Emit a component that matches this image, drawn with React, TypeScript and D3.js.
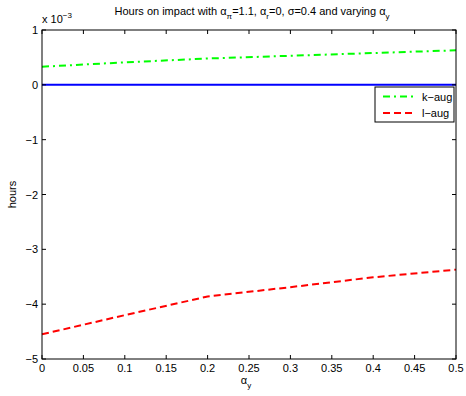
import React, { useEffect, useRef } from 'react';
import * as d3 from 'd3';

// alpha_y grid
const alphaY = [0, 0.1, 0.2, 0.3, 0.4, 0.5];
// hours on impact, in units of 1e-3
const kAug = [0.33, 0.41, 0.48, 0.53, 0.58, 0.63];
const lAug = [-4.55, -4.2, -3.86, -3.69, -3.51, -3.37];
const baseline = [0, 0, 0, 0, 0, 0];
const xTicks = [0, 0.05, 0.1, 0.15, 0.2, 0.25, 0.3, 0.35, 0.4, 0.45, 0.5];
const yTicks = [-5, -4, -3, -2, -1, 0, 1];

const W = 466;
const H = 396;
const margin = { left: 42, right: 10, top: 30, bottom: 37 };
const FONT = 'Liberation Sans, Arial, sans-serif';

export default function App() {
	const ref = useRef<SVGSVGElement | null>(null);

	useEffect(() => {
		const svg = d3.select(ref.current);
		svg.selectAll('*').remove();

		const x = d3.scaleLinear().domain([0, 0.5]).range([margin.left, W - margin.right]);
		const y = d3.scaleLinear().domain([-5, 1]).range([H - margin.bottom, margin.top]);

		svg.append('rect').attr('width', W).attr('height', H).attr('fill', '#fff');

		const g = svg.append('g').style('font-family', FONT).style('font-size', '11px');

		// lines
		const line = d3
			.line<number>()
			.x((d, i) => x(alphaY[i]))
			.y(d => y(d));

		g.append('path')
			.datum(baseline)
			.attr('d', line)
			.attr('fill', 'none')
			.attr('stroke', '#0000ff')
			.attr('stroke-width', 2);
		g.append('path')
			.datum(kAug)
			.attr('d', line)
			.attr('fill', 'none')
			.attr('stroke', '#00ff00')
			.attr('stroke-width', 2)
			.attr('stroke-dasharray', '7,4,2,4');
		g.append('path')
			.datum(lAug)
			.attr('d', line)
			.attr('fill', 'none')
			.attr('stroke', '#ff0000')
			.attr('stroke-width', 2)
			.attr('stroke-dasharray', '7,4');

		// axes box
		const x0 = x(0), x1 = x(0.5), y0 = y(-5), y1 = y(1);
		g.append('rect')
			.attr('x', x0)
			.attr('y', y1)
			.attr('width', x1 - x0)
			.attr('height', y0 - y1)
			.attr('fill', 'none')
			.attr('stroke', '#000')
			.attr('stroke-width', 1);

		const tl = 4;
		xTicks.forEach(t => {
			g.append('line').attr('x1', x(t)).attr('x2', x(t)).attr('y1', y0).attr('y2', y0 - tl).attr('stroke', '#000');
			g.append('line').attr('x1', x(t)).attr('x2', x(t)).attr('y1', y1).attr('y2', y1 + tl).attr('stroke', '#000');
			g.append('text')
				.attr('x', x(t))
				.attr('y', y0 + 13)
				.attr('text-anchor', 'middle')
				.text(String(t));
		});
		yTicks.forEach(t => {
			g.append('line').attr('x1', x0).attr('x2', x0 + tl).attr('y1', y(t)).attr('y2', y(t)).attr('stroke', '#000');
			g.append('line').attr('x1', x1).attr('x2', x1 - tl).attr('y1', y(t)).attr('y2', y(t)).attr('stroke', '#000');
			g.append('text')
				.attr('x', x0 - 4)
				.attr('y', y(t) + 4)
				.attr('text-anchor', 'end')
				.text(t < 0 ? '\u2212' + Math.abs(t) : String(t));
		});

		// exponent
		const ex = g.append('text').attr('x', x0).attr('y', y1 - 7);
		ex.append('tspan').text('x 10');
		ex.append('tspan').attr('dy', -5).attr('font-size', '8px').text('\u22123');

		// title
		const title = g.append('text').attr('x', (x0 + x1) / 2 + 3).attr('y', 15).attr('text-anchor', 'middle');
		title.append('tspan').text('Hours on impact with \u03b1');
		title.append('tspan').attr('dy', 4).attr('font-size', '8px').text('\u03c0');
		title.append('tspan').attr('dy', -4).text('=1.1, \u03b1');
		title.append('tspan').attr('dy', 4).attr('font-size', '8px').text('r');
		title.append('tspan').attr('dy', -4).text('=0, \u03c3=0.4 and varying \u03b1');
		title.append('tspan').attr('dy', 4).attr('font-size', '8px').text('y');

		// x label
		const xl = g.append('text').attr('x', (x0 + x1) / 2 - 3).attr('y', y0 + 25).attr('text-anchor', 'middle');
		xl.append('tspan').text('\u03b1');
		xl.append('tspan').attr('dy', 4).attr('font-size', '8px').text('y');

		// y label
		g.append('text')
			.attr('transform', `translate(16,${(y0 + y1) / 2}) rotate(-90)`)
			.attr('text-anchor', 'middle')
			.text('hours');

		// legend
		const lx = 375, ly = 87, lw = x1 - 2 - lx, lh = 35;
		const leg = g.append('g');
		leg.append('rect')
			.attr('x', lx)
			.attr('y', ly)
			.attr('width', lw)
			.attr('height', lh)
			.attr('fill', '#fff')
			.attr('stroke', '#000')
			.attr('stroke-width', 1);
		const items = [
			{ name: 'k\u2212aug', color: '#00ff00', dash: '7,4,2,4' },
			{ name: 'l\u2212aug', color: '#ff0000', dash: '7,4' },
		];
		items.forEach((it, i) => {
			const yy = ly + 9.5 + i * 16.5;
			leg.append('line')
				.attr('x1', lx + 8)
				.attr('x2', lx + 38)
				.attr('y1', yy)
				.attr('y2', yy)
				.attr('stroke', it.color)
				.attr('stroke-width', 2)
				.attr('stroke-dasharray', it.dash);
			leg.append('text')
				.attr('x', lx + 47)
				.attr('y', yy + 4)
				.text(it.name);
		});
	}, []);

	return (
		<div style={{ position: 'fixed', left: 0, top: 0 }}>
			<svg ref={ref} width={W} height={H} style={{ display: 'block' }} />
		</div>
	);
}
